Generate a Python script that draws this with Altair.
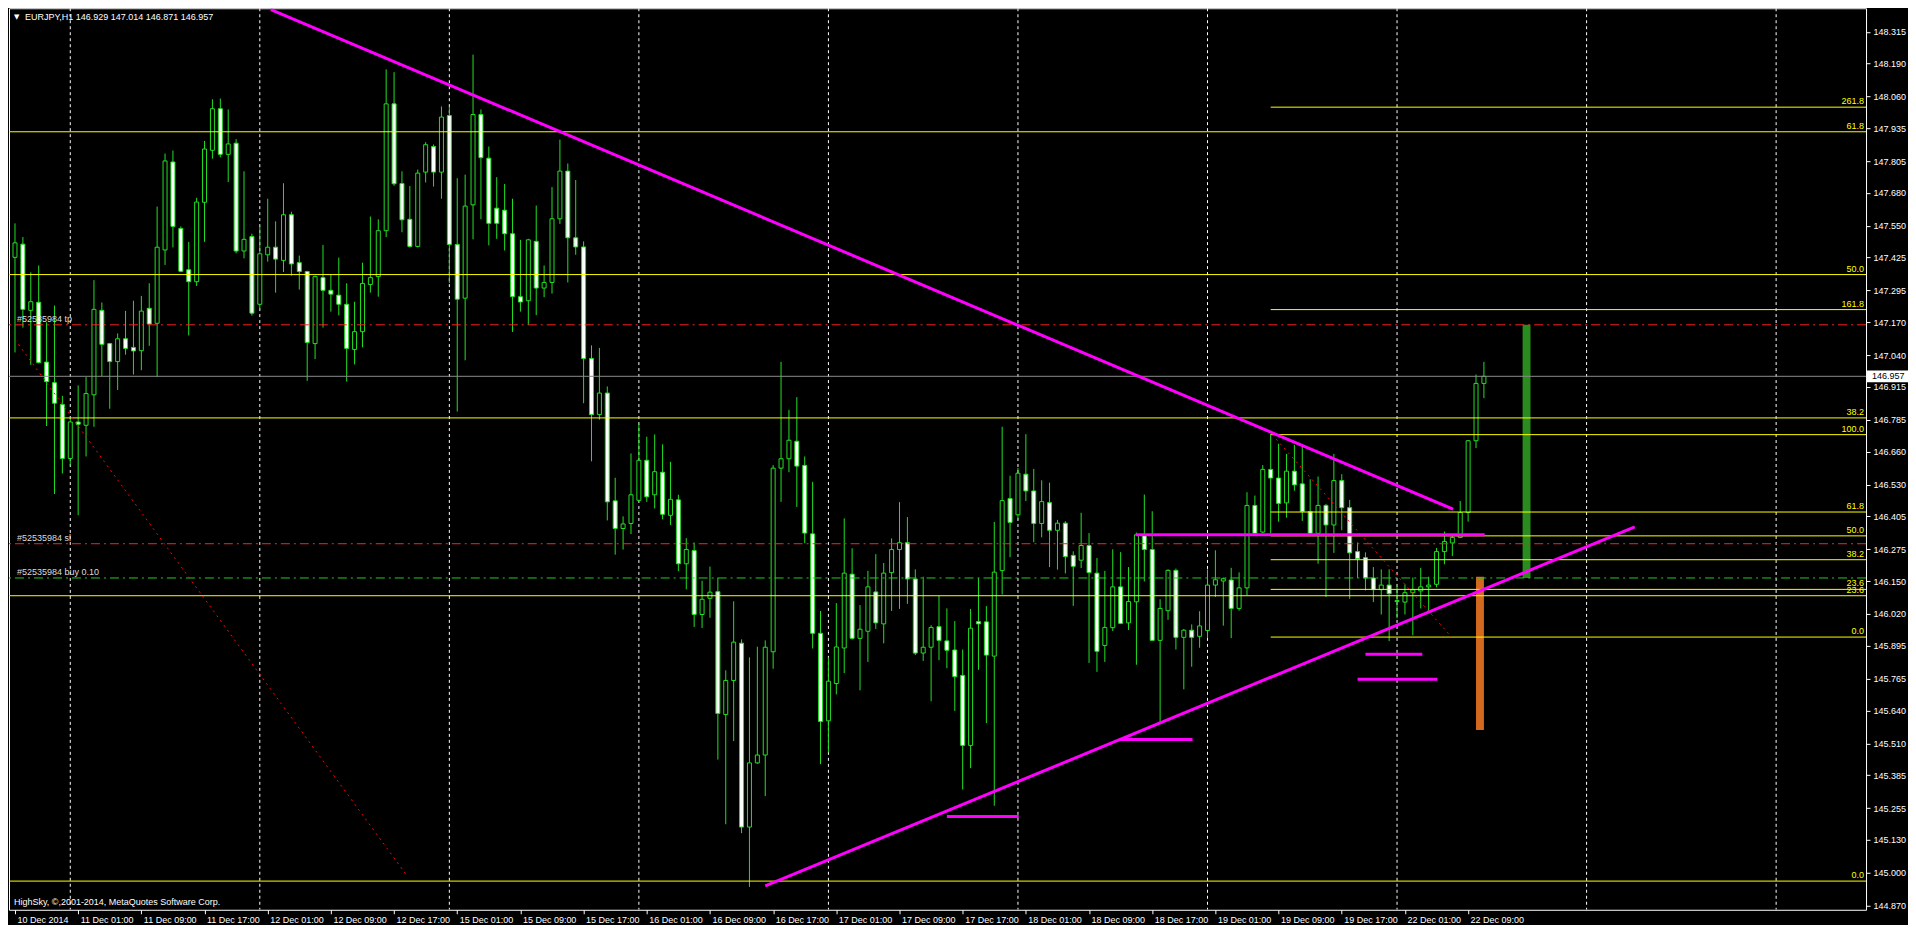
import altair as alt
import pandas as pd

# ---------------- data (EURJPY H1, bar index 0 = 10 Dec 2014 17:00) ----------------
opens = [
147.426, 147.478, 147.217, 147.249, 147.013, 146.932, 146.846, 146.633, 146.777, 146.764,
146.884, 147.217, 147.086, 147.015, 147.105, 147.071, 147.058, 147.225, 147.166, 147.455,
147.802, 147.540, 147.377, 147.330, 147.643, 147.848, 148.012, 147.832, 147.876, 147.451,
147.508, 147.241, 147.436, 147.466, 147.414, 147.594, 147.405, 147.370, 147.086, 147.346,
147.296, 147.277, 147.241, 147.063, 147.133, 147.319, 147.350, 147.531, 148.031, 147.717,
147.576, 147.469, 147.762, 147.863, 147.762, 147.985, 147.477, 147.265, 147.633, 147.989,
147.817, 147.620, 147.612, 147.519, 147.271, 147.255, 147.489, 147.305, 147.327, 147.578,
147.766, 147.503, 147.467, 147.027, 146.806, 146.891, 146.466, 146.357, 146.377, 146.468,
146.626, 146.490, 146.579, 146.409, 146.470, 146.218, 146.270, 146.018, 146.082, 146.108,
145.624, 145.758, 145.905, 145.180, 145.433, 145.464, 145.871, 146.595, 146.632, 146.701,
146.606, 146.336, 145.944, 145.599, 145.746, 145.886, 146.177, 145.924, 145.952, 146.107,
145.981, 146.183, 146.274, 146.301, 146.158, 145.866, 145.889, 145.970, 145.914, 145.878,
145.778, 145.502, 145.990, 145.989, 145.854, 146.191, 146.475, 146.411, 146.571, 146.505,
146.377, 146.459, 146.350, 146.378, 146.251, 146.232, 146.290, 146.181, 145.896, 145.966,
146.127, 145.985, 146.068, 146.332, 146.274, 145.916, 146.033, 146.192, 145.928, 145.956,
145.932, 145.955, 146.134, 146.150, 146.154, 146.042, 146.123, 146.448, 146.343, 146.590,
146.556, 146.458, 146.583, 146.533, 146.424, 146.338, 146.448, 146.371, 146.546, 146.439,
146.266, 146.242, 146.162, 146.116, 146.134, 146.069, 146.067, 146.104, 146.111, 146.127,
146.137, 146.266, 146.300, 146.322, 146.420, 146.703, 146.929]

highs = [
147.560, 147.506, 147.367, 147.394, 147.170, 147.236, 146.880, 146.796, 146.921, 146.954,
147.336, 147.248, 147.089, 147.126, 147.215, 147.255, 147.274, 147.324, 147.626, 147.835,
147.847, 147.548, 147.487, 147.661, 147.885, 148.049, 148.052, 148.009, 147.892, 147.765,
147.519, 147.549, 147.657, 147.568, 147.718, 147.606, 147.433, 147.373, 147.354, 147.475,
147.356, 147.425, 147.324, 147.251, 147.405, 147.587, 147.576, 148.167, 148.156, 147.765,
147.707, 147.772, 147.880, 147.871, 148.021, 148.021, 147.738, 147.752, 148.225, 148.009,
147.863, 147.742, 147.715, 147.657, 147.495, 147.499, 147.630, 147.394, 147.703, 147.890,
147.796, 147.731, 147.489, 147.079, 147.069, 146.917, 146.557, 146.405, 146.653, 146.770,
146.719, 146.728, 146.689, 146.620, 146.490, 146.319, 146.302, 146.151, 146.207, 146.163,
145.798, 146.070, 145.920, 145.849, 145.891, 145.916, 146.607, 147.014, 146.825, 146.875,
146.641, 146.541, 146.032, 145.850, 146.063, 146.397, 146.279, 146.055, 146.190, 146.256,
146.221, 146.318, 146.461, 146.402, 146.196, 146.167, 145.976, 146.091, 146.042, 145.992,
145.880, 146.040, 146.161, 146.051, 146.383, 146.758, 146.565, 146.596, 146.729, 146.592,
146.547, 146.538, 146.391, 146.386, 146.267, 146.419, 146.339, 146.241, 146.190, 146.275,
146.264, 146.205, 146.341, 146.491, 146.425, 146.078, 146.196, 146.199, 145.961, 145.979,
146.031, 146.196, 146.271, 146.164, 146.202, 146.184, 146.500, 146.487, 146.607, 146.729,
146.691, 146.651, 146.687, 146.680, 146.551, 146.562, 146.454, 146.651, 146.571, 146.470,
146.302, 146.263, 146.205, 146.196, 146.196, 146.132, 146.137, 146.164, 146.202, 146.167,
146.280, 146.345, 146.334, 146.465, 146.706, 146.964, 147.014]

lows = [
147.051, 147.149, 147.002, 147.008, 146.761, 146.493, 146.574, 146.605, 146.409, 146.641,
146.758, 146.958, 146.829, 146.903, 147.042, 146.964, 146.981, 147.077, 146.955, 147.396,
147.465, 147.367, 147.118, 147.313, 147.487, 147.815, 147.820, 147.723, 147.442, 147.422,
147.196, 147.217, 147.409, 147.287, 147.368, 147.354, 147.299, 146.939, 147.025, 147.149,
147.212, 147.197, 146.936, 147.004, 147.071, 147.287, 147.271, 147.506, 147.708, 147.525,
147.465, 147.465, 147.721, 147.705, 147.657, 147.325, 146.818, 147.020, 147.497, 147.576,
147.473, 147.499, 147.453, 147.132, 147.212, 147.160, 147.198, 147.269, 147.283, 147.558,
147.327, 147.436, 146.851, 146.622, 146.786, 146.389, 146.254, 146.274, 146.335, 146.464,
146.462, 146.436, 146.393, 146.371, 146.189, 146.117, 145.969, 145.965, 146.005, 145.446,
145.191, 145.519, 145.156, 144.944, 145.429, 145.302, 145.804, 146.462, 146.579, 146.442,
146.299, 145.884, 145.428, 145.474, 145.703, 145.787, 145.919, 145.719, 145.831, 145.961,
145.904, 146.032, 146.040, 146.060, 145.858, 145.835, 145.676, 145.838, 145.806, 145.638,
145.328, 145.412, 145.800, 145.590, 145.264, 146.097, 146.244, 146.390, 146.465, 146.303,
146.322, 146.205, 146.195, 146.180, 146.052, 146.201, 145.827, 145.792, 145.831, 145.953,
145.980, 145.957, 145.820, 146.148, 145.916, 145.590, 145.997, 145.880, 145.723, 145.812,
145.887, 145.925, 146.087, 145.974, 145.925, 146.033, 146.093, 146.338, 146.338, 146.338,
146.384, 146.400, 146.506, 146.387, 146.338, 146.218, 146.087, 146.261, 146.350, 146.080,
146.162, 146.113, 146.067, 146.018, 145.913, 146.003, 146.018, 145.936, 146.042, 146.029,
146.125, 146.216, 146.248, 146.319, 146.384, 146.674, 146.871]

closes = [
147.483, 147.221, 147.251, 147.011, 146.936, 146.851, 146.633, 146.777, 146.768, 146.889,
147.221, 147.083, 147.015, 147.105, 147.067, 147.057, 147.214, 147.163, 147.466, 147.806,
147.548, 147.371, 147.330, 147.644, 147.853, 148.012, 147.832, 147.873, 147.451, 147.497,
147.206, 147.440, 147.466, 147.419, 147.594, 147.400, 147.370, 147.090, 147.350, 147.296,
147.281, 147.241, 147.067, 147.133, 147.323, 147.346, 147.531, 148.031, 147.716, 147.574,
147.469, 147.758, 147.870, 147.762, 147.979, 147.477, 147.261, 147.628, 147.989, 147.819,
147.560, 147.560, 147.519, 147.271, 147.250, 147.495, 147.305, 147.327, 147.578, 147.766,
147.503, 147.467, 147.027, 146.806, 146.891, 146.462, 146.357, 146.375, 146.490, 146.626,
146.482, 146.581, 146.413, 146.472, 146.218, 146.274, 146.018, 146.078, 146.106, 145.628,
145.758, 145.909, 145.180, 145.433, 145.464, 145.889, 146.595, 146.632, 146.705, 146.603,
146.339, 145.944, 145.596, 145.755, 145.890, 146.181, 145.924, 145.960, 146.127, 145.985,
146.181, 146.274, 146.301, 146.158, 145.866, 145.889, 145.967, 145.916, 145.877, 145.773,
145.502, 145.964, 145.981, 145.858, 146.185, 146.467, 146.381, 146.575, 146.505, 146.377,
146.463, 146.350, 146.378, 146.246, 146.208, 146.290, 146.183, 145.873, 145.967, 146.127,
145.983, 146.069, 146.332, 146.274, 145.916, 146.042, 146.192, 145.928, 145.956, 145.928,
145.973, 146.134, 146.155, 146.159, 146.042, 146.123, 146.448, 146.338, 146.590, 146.556,
146.456, 146.583, 146.529, 146.424, 146.338, 146.448, 146.371, 146.546, 146.439, 146.261,
146.238, 146.162, 146.116, 146.134, 146.100, 146.073, 146.104, 146.115, 146.127, 146.134,
146.266, 146.306, 146.322, 146.420, 146.703, 146.929, 146.957]

# time-axis labels (one every 8 bars)
x_label_idx = [0, 8, 16, 24, 32, 40, 48, 56, 64, 72, 80, 88, 96, 104, 112, 120,
               128, 136, 144, 152, 160, 168, 176, 184]
x_labels = ["10 Dec 2014", "11 Dec 01:00", "11 Dec 09:00", "11 Dec 17:00",
            "12 Dec 01:00", "12 Dec 09:00", "12 Dec 17:00", "15 Dec 01:00",
            "15 Dec 09:00", "15 Dec 17:00", "16 Dec 01:00", "16 Dec 09:00",
            "16 Dec 17:00", "17 Dec 01:00", "17 Dec 09:00", "17 Dec 17:00",
            "18 Dec 01:00", "18 Dec 09:00", "18 Dec 17:00", "19 Dec 01:00",
            "19 Dec 09:00", "19 Dec 17:00", "22 Dec 01:00", "22 Dec 09:00"]
day_start_idx = [7, 31, 55, 79, 103, 127, 151, 175, 199, 223]

# price axis labels
y_ticks = [148.315, 148.190, 148.060, 147.935, 147.805, 147.680, 147.550, 147.425,
           147.295, 147.170, 147.040, 146.915, 146.785, 146.660, 146.530, 146.405,
           146.275, 146.150, 146.020, 145.895, 145.765, 145.640, 145.510, 145.385,
           145.255, 145.130, 145.000, 144.870]

# Fibonacci (large, whole chart)
fib_big_levels = ["61.8", "50.0", "38.2", "23.6", "0.0"]
fib_big_prices = [147.921, 147.358, 146.793, 146.092, 144.967]
# Fibonacci (small, starting at bar 159)
fib_small_levels = ["261.8", "161.8", "100.0", "61.8", "50.0", "38.2", "23.6", "0.0"]
fib_small_prices = [148.018, 147.220, 146.727, 146.422, 146.328, 146.234, 146.117, 145.929]
fib_small_start = 159.0

# order lines
bid_price = 146.957
order_names = ["#52535984 tp", "#52535984 sl", "#52535984 buy 0.10"]
order_prices = [147.160, 146.297, 146.162]

# trend lines (bar index / price pairs)
trend_x0 = [32.4, 95.0, 141.9, 118.0, 139.8, 171.0, 170.0]
trend_y0 = [148.403, 144.948, 146.332, 145.222, 145.525, 145.861, 145.763]
trend_x1 = [182.1, 205.1, 186.1, 127.1, 149.1, 178.2, 180.1]
trend_y1 = [146.433, 146.363, 146.332, 145.222, 145.525, 145.861, 145.763]

# Fibonacci anchor (dotted) lines
anchor_x0 = [0.0, 159.2]
anchor_y0 = [147.102, 146.727]
anchor_x1 = [49.6, 181.9]
anchor_y1 = [144.990, 145.929]

# target / stop boxes
box_x0 = [190.9, 185.0]
box_x1 = [191.9, 186.0]
box_top = [147.160, 146.167]
box_bottom = [146.162, 145.563]
box_colors = ["#2a8c1e", "#d2691e"]

# ---------------- chart ----------------
W, H = 1858, 902
XDOM = [-0.125, 233.75]
YDOM = [144.854, 148.408]
GREEN = "#22e022"
FONT = "Liberation Sans"

xs = alt.Scale(domain=XDOM, nice=False, zero=False)
ys = alt.Scale(domain=YDOM, nice=False, zero=False)

candles = pd.DataFrame({"i": list(range(len(opens))), "open": opens, "high": highs,
                        "low": lows, "close": closes})

label_js = "[" + ",".join("'%s'" % s for s in x_labels) + "]"

x_axis = alt.Axis(values=x_label_idx, labelExpr=label_js + "[round(datum.value/8)]",
                  labelAlign="left", labelOffset=2, labelColor="#ffffff", labelFontSize=9,
                  labelFont=FONT, tickColor="#ffffff", tickSize=4, domain=False,
                  grid=False, title=None, labelPadding=2, labelFlush=False,
                  labelOverlap=False)
y_axis = alt.Axis(orient="right", values=y_ticks, format=".3f", labelColor="#ffffff",
                  labelFontSize=9, labelFont=FONT, tickColor="#ffffff", tickSize=4,
                  domain=False, grid=False, title=None, labelPadding=3,
                  labelOverlap=False)


def X(field):
    return alt.X(field, scale=xs, axis=x_axis)


def Y(field):
    return alt.Y(field, scale=ys, axis=y_axis)


grid = alt.Chart(pd.DataFrame({"i": day_start_idx})).mark_rule(
    color="#ffffff", strokeDash=[3, 3], strokeWidth=1, clip=True
).encode(x=X("i:Q"))

wicks = alt.Chart(candles).mark_rule(color=GREEN, strokeWidth=1, clip=True).encode(
    x=X("i:Q"), y=Y("low:Q"), y2="high:Q")
bodies = alt.Chart(candles).mark_bar(width=4, stroke=GREEN, strokeWidth=1, clip=True).encode(
    x=X("i:Q"), y=Y("open:Q"), y2="close:Q",
    fill=alt.condition("datum.open > datum.close", alt.value("#ffffff"), alt.value("#000000")),
)

fib_big = pd.DataFrame({"p": fib_big_prices, "lab": fib_big_levels})
fib_big_lines = alt.Chart(fib_big).mark_rule(color="#ffff00", strokeWidth=1).encode(y=Y("p:Q"))
fib_big_text = alt.Chart(fib_big).mark_text(
    align="right", baseline="bottom", dy=-1, fontSize=9, font=FONT, color="#ffff00"
).encode(x=alt.value(W - 2), y=Y("p:Q"), text="lab:N")

fib_small = pd.DataFrame({"p": fib_small_prices, "lab": fib_small_levels,
                          "s": [fib_small_start] * len(fib_small_prices)})
fib_small_lines = alt.Chart(fib_small).mark_rule(color="#ffff00", strokeWidth=1).encode(
    x=X("s:Q"), x2=alt.value(W), y=Y("p:Q"))
fib_small_text = alt.Chart(fib_small).mark_text(
    align="right", baseline="bottom", dy=-1, fontSize=9, font=FONT, color="#ffff00"
).encode(x=alt.value(W - 2), y=Y("p:Q"), text="lab:N")

bid_line = alt.Chart(pd.DataFrame({"p": [bid_price]})).mark_rule(
    color="#8c8c8c", strokeWidth=1).encode(y=Y("p:Q"))

orders = pd.DataFrame({"p": order_prices, "name": order_names,
                       "kind": ["tp", "sl", "buy"]})
order_lines = alt.Chart(orders).mark_rule(strokeWidth=1, strokeDash=[9, 4, 2, 4]).encode(
    y=Y("p:Q"),
    color=alt.Color("kind:N", scale=alt.Scale(domain=["tp", "sl", "buy"],
                                               range=["#ff2020", "#ff2020", "#22cc22"]),
                    legend=None),
)
order_text = alt.Chart(orders).mark_text(
    align="left", baseline="bottom", dy=-1, fontSize=9, font=FONT, color="#dcdcdc"
).encode(x=alt.value(8), y=Y("p:Q"), text="name:N")

anchors = pd.DataFrame({"x0": anchor_x0, "y0": anchor_y0, "x1": anchor_x1, "y1": anchor_y1})
anchor_lines = alt.Chart(anchors).mark_rule(
    color="#ff0000", strokeWidth=1, strokeDash=[2, 4], clip=True
).encode(x=X("x0:Q"), x2="x1:Q", y=Y("y0:Q"), y2="y1:Q")

trends = pd.DataFrame({"x0": trend_x0, "y0": trend_y0, "x1": trend_x1, "y1": trend_y1})
trend_lines = alt.Chart(trends).mark_rule(color="#ff00ff", strokeWidth=3, clip=True).encode(
    x=X("x0:Q"), x2="x1:Q", y=Y("y0:Q"), y2="y1:Q")

boxes = pd.DataFrame({"x0": box_x0, "x1": box_x1, "t": box_top, "b": box_bottom,
                      "c": box_colors})
box_rects = alt.Chart(boxes).mark_rect().encode(
    x=X("x0:Q"), x2="x1:Q", y=Y("t:Q"), y2="b:Q",
    fill=alt.Color("c:N", scale=None, legend=None))

bid_box_df = pd.DataFrame({"t": [bid_price + 0.023], "b": [bid_price - 0.023],
                           "p": [bid_price], "lab": ["%.3f" % bid_price]})
bid_box = alt.Chart(bid_box_df).mark_rect(color="#ffffff").encode(
    x=alt.value(W + 1), x2=alt.value(W + 42), y=Y("t:Q"), y2="b:Q")
bid_text = alt.Chart(bid_box_df).mark_text(
    align="left", baseline="middle", fontSize=9, font=FONT, color="#000000"
).encode(x=alt.value(W + 6), y=Y("p:Q"), text="lab:N")

header = "EURJPY,H1  %.3f %.3f %.3f %.3f" % (opens[-1], highs[-1], lows[-1], closes[-1])
head_text = alt.Chart(pd.DataFrame({"t": [header]})).mark_text(
    align="left", baseline="middle", fontSize=9, font=FONT, color="#ffffff"
).encode(x=alt.value(16), y=alt.value(9), text="t:N")
head_tri = alt.Chart(pd.DataFrame({"t": ["▼"]})).mark_text(
    align="left", baseline="middle", fontSize=7, font="DejaVu Sans", color="#ffffff"
).encode(x=alt.value(5), y=alt.value(9), text="t:N")

copy_text = alt.Chart(pd.DataFrame({"t": ["HighSky, ©,2001-2014, MetaQuotes Software Corp."]})).mark_text(
    align="left", baseline="middle", fontSize=9, font=FONT, color="#ffffff"
).encode(x=alt.value(5), y=alt.value(H - 8), text="t:N")

chart = alt.layer(
    grid, box_rects, wicks, bodies,
    fib_big_lines, fib_small_lines, bid_line, order_lines, anchor_lines, trend_lines,
    fib_big_text, fib_small_text, order_text, bid_box, bid_text,
    head_tri, head_text, copy_text,
).properties(
    width=W, height=H, padding={"left": 0, "top": 0, "right": 0, "bottom": 0},
    background="#000000",
).configure_view(
    stroke="#ffffff", strokeWidth=1
)

chart.save("out.html", embed_options={"renderer": "svg", "actions": False})
